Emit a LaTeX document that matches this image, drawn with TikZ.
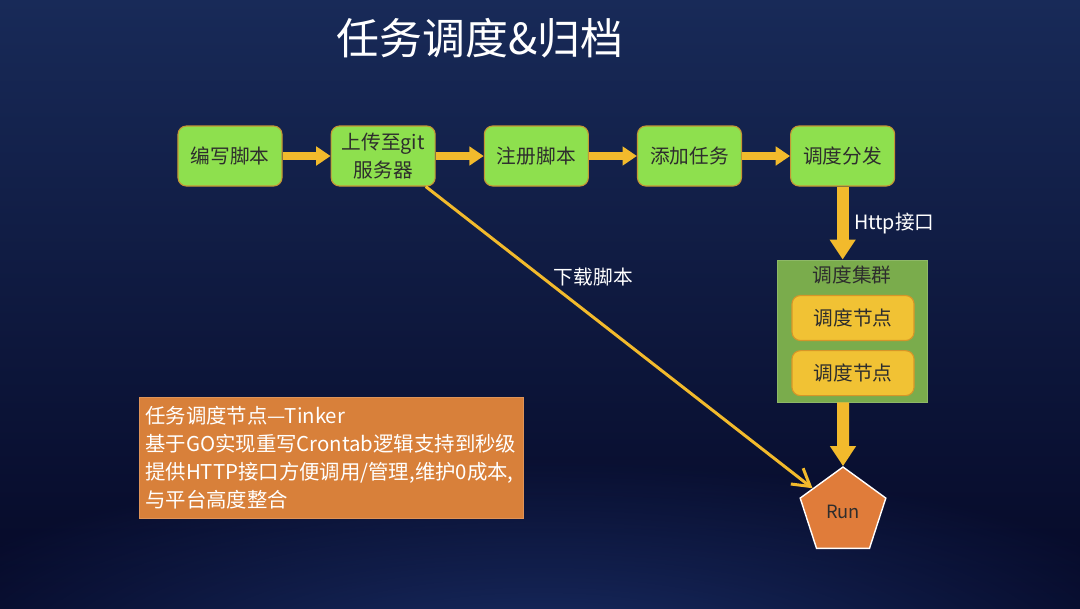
\documentclass[tikz,border=0pt]{standalone}
\usepackage{fontspec}
\setmainfont{Noto Sans CJK SC}
\usetikzlibrary{arrows.meta,positioning,shapes.geometric,fadings}
\definecolor{bgtop}{RGB}{24,42,88}
\definecolor{bgmid}{RGB}{10,18,56}
\definecolor{bgbot}{RGB}{5,8,38}
\definecolor{glowblue}{RGB}{40,72,145}
\definecolor{stepgreen}{RGB}{142,224,78}
\definecolor{stepedge}{RGB}{196,150,52}
\definecolor{flowyellow}{RGB}{242,186,44}
\definecolor{clustergreen}{RGB}{122,172,76}
\definecolor{nodeyellow}{RGB}{241,194,52}
\definecolor{nodeedge}{RGB}{214,150,40}
\definecolor{noteorange}{RGB}{216,128,58}
\definecolor{runorange}{RGB}{224,124,58}
\definecolor{textdark}{RGB}{45,45,45}
\tikzfading[name=glowfade, inner color=transparent!0, outer color=transparent!100]

\begin{document}
\begin{tikzpicture}[x=0.025cm, y=-0.025cm,
      stepbox/.style={draw=stepedge, fill=stepgreen, rounded corners=6pt, line width=0.8pt,
                      minimum width=2.6cm, minimum height=1.5cm, align=center,
                      text=textdark, font=\fontsize{14}{20}\selectfont},
      cluster/.style={draw=clustergreen!85!white, fill=clustergreen, line width=0.6pt,
                      minimum width=3.75cm, minimum height=3.55cm},
      worker/.style={draw=nodeedge, fill=nodeyellow, rounded corners=6pt, line width=0.8pt,
                     minimum width=3.05cm, minimum height=1.125cm,
                     text=textdark, font=\fontsize{14}{20}\selectfont},
      runshape/.style={regular polygon, regular polygon sides=5, minimum size=2.25cm, inner sep=0pt,
                       draw=white, line width=1pt, fill=runorange,
                       text=textdark, font=\fontsize{13}{16}\selectfont},
      notebox/.style={draw=noteorange!85!white, fill=noteorange, anchor=north west,
                      minimum width=9.6cm, minimum height=3.025cm, inner xsep=0.15cm,
                      text width=9.3cm, align=left, text=white,
                      font=\fontsize{14.5}{20}\selectfont},
      lbl/.style={text=white, font=\fontsize{14}{18}\selectfont},
      flow/.style={-{Triangle[length=0.36cm, width=0.46cm]}, draw=flowyellow, line width=0.2cm},
      bigflow/.style={-{Triangle[length=0.5cm, width=0.62cm]}, draw=flowyellow, line width=0.3cm},
      fetch/.style={-{Straight Barb[length=0.42cm, width=0.5cm]}, draw=flowyellow, line width=0.075cm},
      node distance=1.2cm
    ]
      \useasboundingbox (0,0) rectangle (1080,608);
      \begin{scope}
        \clip (0,0) rectangle (1080,608);
        \shade[top color=bgtop, middle color=bgmid, bottom color=bgbot] (0,0) rectangle (1080,608);
        \fill[glowblue, path fading=glowfade, opacity=0.6] (540,660) ellipse [x radius=17cm, y radius=5cm];
      \end{scope}

      \node[text=white, font=\fontsize{30.5}{36}\selectfont] (title) at (480,38) {任务调度\&归档};

      \node[stepbox] (write) at (230,156) {编写脚本};
      \node[stepbox, right=of write] (upload) {上传至git\\服务器};
      \node[stepbox, right=of upload] (register) {注册脚本};
      \node[stepbox, right=of register] (addtask) {添加任务};
      \node[stepbox, right=of addtask] (dispatch) {调度分发};

      \node[cluster] (cluster) at (852,331) {};
      \node[text=textdark, font=\fontsize{14}{20}\selectfont] (clustertitle) at ([yshift=-0.38cm]cluster.north) {调度集群};
      \node[worker] (workerA) at (853,318) {调度节点};
      \node[worker, below=0.225cm of workerA] (workerB) {调度节点};

      \node[runshape] (run) at (843,512) {Run};

      \node[notebox] (note) at (139,397) {任务调度节点—Tinker\\
        基于GO实现重写Crontab逻辑支持到秒级\\
        提供HTTP接口方便调用/管理,维护0成本,\\
        与平台高度整合};

      \draw[flow] (write) -- (upload);
      \draw[flow] (upload) -- (register);
      \draw[flow] (register) -- (addtask);
      \draw[flow] (addtask) -- (dispatch);
      \draw[bigflow] (dispatch) -- (dispatch |- cluster.north)
        node[lbl, midway, right=0.02cm] {Http接口};
      \draw[bigflow] (cluster.south -| run) -- (run);
      \draw[fetch] ([xshift=-0.25cm]upload.south east) -- (run)
        node[lbl, pos=0.3, right=0.15cm] {下载脚本};
    \end{tikzpicture}
\end{document}
